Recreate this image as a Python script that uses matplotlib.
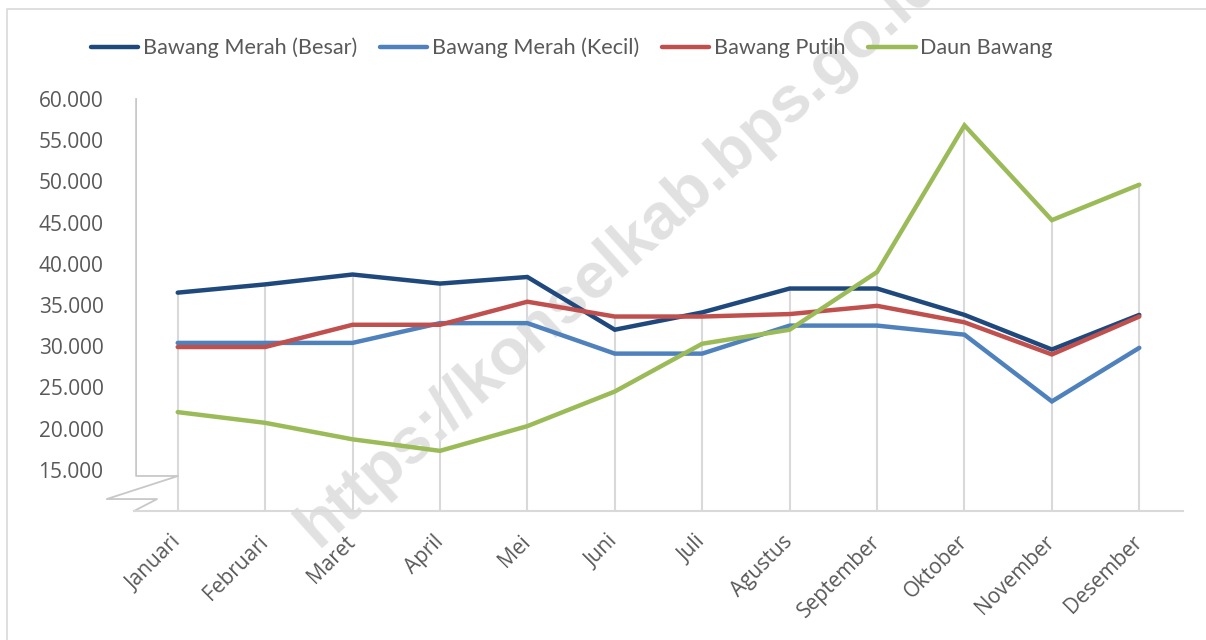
import matplotlib
matplotlib.use("Agg")
import matplotlib.pyplot as plt
from matplotlib.lines import Line2D
from matplotlib.ticker import FuncFormatter

# harga rata-rata per bulan (Rp/kg)
bulan = ["Januari", "Februari", "Maret", "April", "Mei", "Juni", "Juli",
         "Agustus", "September", "Oktober", "November", "Desember"]
merah_besar = [36500, 37500, 38700, 37600, 38400, 32000, 34100, 37000, 37000, 33800, 29600, 33800]
merah_kecil = [30400, 30400, 30400, 32800, 32800, 29100, 29100, 32500, 32500, 31400, 23300, 29800]
putih = [29900, 29900, 32600, 32600, 35400, 33600, 33600, 33900, 34900, 32900, 29000, 33600]
daun = [22000, 20700, 18700, 17300, 20300, 24500, 30300, 32000, 39000, 56800, 45300, 49600]

series = [
    ("Bawang Merah (Besar)", merah_besar, "#1F497D"),
    ("Bawang Merah (Kecil)", merah_kecil, "#4F81BD"),
    ("Bawang Putih", putih, "#C0504D"),
    ("Daun Bawang", daun, "#9BBB59"),
]
yticks = [15000, 20000, 25000, 30000, 35000, 40000, 45000, 50000, 55000, 60000]

text_col = "#595959"
grid_col = "#d9d9d9"

fig = plt.figure(figsize=(12.06, 6.4), dpi=100)
ax = fig.add_axes([134 / 1206, 1 - 511 / 640, 1049 / 1206, 412 / 640])

x = list(range(len(bulan)))

# garis jatuh (drop lines) dari nilai tertinggi ke sumbu
tertinggi = [max(v) for v in zip(merah_besar, merah_kecil, putih, daun)]
ax.vlines(x, 10000, tertinggi, color=grid_col, lw=1.5, zorder=1)

for nama, vals, col in series:
    ax.plot(x, vals, color=col, lw=3.2, label=nama, zorder=3,
            solid_joinstyle="miter", solid_capstyle="round")

ax.set_xlim(-0.5, len(bulan) - 0.5)
ax.set_ylim(10000, 60000)
ax.set_yticks(yticks)
ax.yaxis.set_major_formatter(FuncFormatter(lambda v, p: f"{int(v):,}".replace(",", ".")))
ax.set_xticks(x)
ax.set_xticklabels(bulan, rotation=45, ha="right", va="center", rotation_mode="anchor")

for s in ["top", "right", "left"]:
    ax.spines[s].set_visible(False)
ax.spines["bottom"].set_color(grid_col)
ax.spines["bottom"].set_linewidth(1.5)
ax.tick_params(axis="both", length=0, colors=text_col, labelfontfamily="Open Sans")
ax.tick_params(axis="y", pad=22, labelsize=15)
ax.tick_params(axis="x", pad=20, labelsize=15)

# sumbu y dengan tanda potong (axis break)
brk_col = "#c8c8c8"
ax.add_line(Line2D([0.002, 0.002, 0.042, -0.026, 0.022, 0.0],
                   [1.0, 0.085, 0.085, 0.029, 0.029, 0.0],
                   transform=ax.transAxes, color=brk_col, lw=1.3, clip_on=False, zorder=2))

leg = fig.legend(loc="center", bbox_to_anchor=(0.474, 0.925), ncol=4, frameon=False,
                 handlelength=2.2, handletextpad=0.2, columnspacing=1.05,
                 prop={"family": "Lato", "size": 15.6})
for t in leg.get_texts():
    t.set_color(text_col)

# bingkai chart
fig.add_artist(Line2D([7 / 1206, 7 / 1206, 1.0], [0.0, 1 - 9 / 640, 1 - 9 / 640],
                      transform=fig.transFigure, color=grid_col, lw=1.2))

# watermark
ax.text(318 / 1206, 1 - 548 / 640, "https://konselkab.bps.go.id", transform=fig.transFigure,
        rotation=42, rotation_mode="anchor", ha="left", va="baseline",
        fontsize=47, fontweight="bold", color="#e1e1e1", family="Liberation Sans",
        clip_on=False, zorder=2)

fig.savefig("out.png", dpi=100, facecolor="white")
